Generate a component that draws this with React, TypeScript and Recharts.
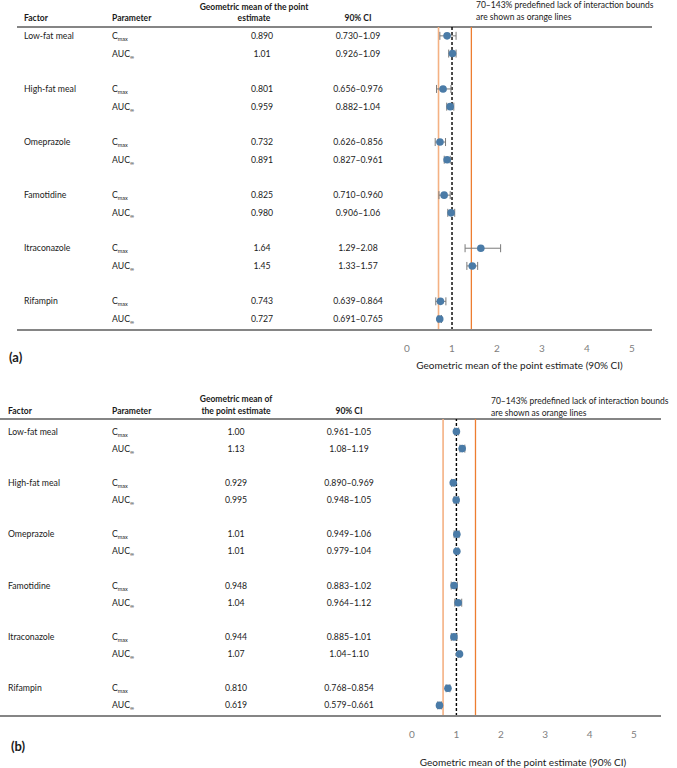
import React from "react";
import { ScatterChart, Scatter, XAxis, YAxis, ReferenceLine, ErrorBar } from "recharts";

const FONT = "Lato, 'Open Sans', sans-serif";
const BLUE = "#4A7BA7";
const GREY = "#858585";
const TEXT = "#1a1a1a";

const factors = ["Low-fat meal", "High-fat meal", "Omeprazole", "Famotidine", "Itraconazole", "Rifampin"];
const params = [["C", "max"], ["AUC", "∞"]];
const xTicks = [0, 1, 2, 3, 4, 5];
const bounds = [0.7, 1.43];

// panel (a)
const meanA = [0.89, 1.01, 0.801, 0.959, 0.732, 0.891, 0.825, 0.98, 1.64, 1.45, 0.743, 0.727];
const lowA = [0.73, 0.926, 0.656, 0.882, 0.626, 0.827, 0.71, 0.906, 1.29, 1.33, 0.639, 0.691];
const highA = [1.09, 1.09, 0.976, 1.04, 0.856, 0.961, 0.96, 1.06, 2.08, 1.57, 0.864, 0.765];

// panel (b)
const meanB = [1.0, 1.13, 0.929, 0.995, 1.01, 1.01, 0.948, 1.04, 0.944, 1.07, 0.81, 0.619];
const lowB = [0.961, 1.08, 0.89, 0.948, 0.949, 0.979, 0.883, 0.964, 0.885, 1.04, 0.768, 0.579];
const highB = [1.05, 1.19, 0.969, 1.05, 1.06, 1.04, 1.02, 1.12, 1.01, 1.1, 0.854, 0.661];

function buildRows(mean: number[], low: number[], high: number[]) {
  return mean.map((m, i) => {
    const g = Math.floor(i / 2);
    const p = i % 2;
    return {
      y: g * 3 + p,
      x: m,
      err: [m - low[i], high[i] - m],
      factor: p === 0 ? factors[g] : "",
      param: p,
      mean: m.toPrecision(3),
      ci: `${low[i].toPrecision(3)}–${high[i].toPrecision(3)}`,
    };
  });
}

const rowsA = buildRows(meanA, lowA, highA);
const rowsB = buildRows(meanB, lowB, highB);

function RowTick(props: any) {
  const { y, payload, rows, cols } = props;
  const r = rows.find((d: any) => d.y === payload.value);
  if (!r) return null;
  const [base, sub] = params[r.param];
  const t = { fontFamily: FONT, fontSize: 8.7, fill: TEXT };
  return (
    <g>
      {r.factor && (
        <text x={cols.factor} y={y} dy="0.35em" {...t}>{r.factor}</text>
      )}
      <text x={cols.param} y={y} dy="0.35em" {...t}>
        {base}
        <tspan dy={2} fontSize={5.5}>{sub}</tspan>
      </text>
      <text x={cols.mean} y={y} dy="0.35em" textAnchor="middle" {...t}>{r.mean}</text>
      <text x={cols.ci} y={y} dy="0.35em" textAnchor="middle" {...t}>{r.ci}</text>
    </g>
  );
}

function Dot(props: any) {
  const { cx, cy } = props;
  return <circle cx={cx} cy={cy} r={3.8} fill={BLUE} />;
}

function Forest({ rows, width, height, margin, xDomain, yDomain, cols }: any) {
  return (
    <ScatterChart width={width} height={height} margin={margin}>
      <XAxis
        type="number"
        dataKey="x"
        domain={xDomain}
        ticks={xTicks}
        allowDataOverflow
        tickLine={false}
        tickSize={0}
        tickMargin={15}
        height={40}
        axisLine={{ stroke: GREY, strokeWidth: 1.8 }}
        tick={{ fontFamily: FONT, fontSize: 10, fill: "#808080" }}
      />
      <YAxis
        type="number"
        dataKey="y"
        domain={yDomain}
        reversed
        allowDataOverflow
        width={1}
        interval={0}
        ticks={rows.map((r: any) => r.y)}
        axisLine={false}
        tickLine={false}
        tick={(p: any) => <RowTick {...p} rows={rows} cols={cols} />}
      />
      <ReferenceLine y={yDomain[0]} stroke={GREY} strokeWidth={1.8} />
      <ReferenceLine x={bounds[0]} stroke="#F4B183" strokeWidth={1.6} />
      <ReferenceLine x={bounds[1]} stroke="#ED7D31" strokeWidth={1.3} />
      <ReferenceLine x={1} stroke="#000" strokeWidth={1.4} strokeDasharray="3 2" />
      <Scatter data={rows} shape={<Dot />} isAnimationActive={false}>
        <ErrorBar dataKey="err" direction="x" width={4} stroke="#7a7a7a" strokeWidth={1} />
      </Scatter>
    </ScatterChart>
  );
}

const abs = (left: number, top: number, extra: any = {}) => ({
  position: "absolute" as const,
  left,
  top,
  whiteSpace: "nowrap" as const,
  fontFamily: FONT,
  color: TEXT,
  lineHeight: 1,
  ...extra,
});

const hdr = { fontSize: 8.5, fontWeight: 700, transform: "translateY(-50%)" };
const hdrC = { fontSize: 8.5, fontWeight: 700, transform: "translate(-50%,-50%)" };
const note = { fontSize: 8.5, transform: "translateY(-50%)" };
const title = { fontSize: 10, transform: "translate(-50%,-50%)" };
const tag = { fontSize: 13, fontWeight: 700, transform: "translateY(-50%)" };

export default function App() {
  return (
    <div style={{ position: "absolute", left: 0, top: 0, width: 677, height: 768, background: "#fff" }}>
      {/* panel (a) */}
      <div style={{ position: "absolute", left: 0, top: 0 }}>
        <Forest
          rows={rowsA}
          width={677}
          height={380}
          margin={{ top: 27, right: 25, left: 16, bottom: 10 }}
          xDomain={[-8.667, 5.444]}
          yDomain={[-0.5, 16.62]}
          cols={{ factor: 24, param: 112, mean: 262, ci: 358 }}
        />
      </div>
      <div style={abs(24, 18, hdr)}>Factor</div>
      <div style={abs(112, 18, hdr)}>Parameter</div>
      <div style={abs(254, 7, hdrC)}>Geometric mean of the point</div>
      <div style={abs(254, 18, hdrC)}>estimate</div>
      <div style={abs(358, 18, hdrC)}>90% CI</div>
      <div style={abs(476, 5, note)}>70–143% predefined lack of interaction bounds</div>
      <div style={abs(476, 17, note)}>are shown as orange lines</div>
      <div style={abs(9, 357, tag)}>(a)</div>
      <div style={abs(519.5, 365, title)}>Geometric mean of the point estimate (90% CI)</div>

      {/* panel (b) */}
      <div style={{ position: "absolute", left: 0, top: 392 }}>
        <Forest
          rows={rowsB}
          width={677}
          height={376}
          margin={{ top: 27, right: 16, left: -1, bottom: 12 }}
          xDomain={[-9.279, 5.608]}
          yDomain={[-0.73, 16.62]}
          cols={{ factor: 8, param: 112, mean: 236, ci: 349 }}
        />
      </div>
      <div style={abs(8, 411, hdr)}>Factor</div>
      <div style={abs(112, 411, hdr)}>Parameter</div>
      <div style={abs(236, 399, hdrC)}>Geometric mean of</div>
      <div style={abs(236, 411, hdrC)}>the point estimate</div>
      <div style={abs(349, 411, hdrC)}>90% CI</div>
      <div style={abs(491, 401, note)}>70–143% predefined lack of interaction bounds</div>
      <div style={abs(491, 413, note)}>are shown as orange lines</div>
      <div style={abs(11, 746, tag)}>(b)</div>
      <div style={abs(523, 762, title)}>Geometric mean of the point estimate (90% CI)</div>
    </div>
  );
}
